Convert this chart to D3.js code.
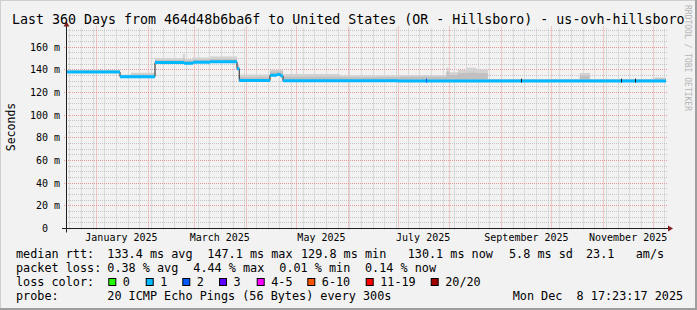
<!DOCTYPE html>
<html><head><meta charset="utf-8">
<script src="https://cdn.jsdelivr.net/npm/d3@7"></script>
<style>
html,body{margin:0;padding:0;background:#f2f2f2;}
svg{display:block;}
text{font-family:"DejaVu Sans Mono",monospace;fill:#000;white-space:pre;}
</style></head><body>
<svg id="c" width="697" height="310"></svg>
<script>
// ---------- data ----------
const titleText = "Last 360 Days from 464d48b6ba6f to United States (OR - Hillsboro) - us-ovh-hillsboro";
const yAxisTitle = "Seconds";
const watermark = "RRDTOOL / TOBI OETIKER";
const endTime = "2025-12-08T17:23:17Z";
const spanDays = 360;
const yMax = 176.5;                       // ms (upper limit)
const yMajorTicks = [0, 20, 40, 60, 80, 100, 120, 140, 160];
const yTickLabels = ["0  ", "20 m", "40 m", "60 m", "80 m", "100 m", "120 m", "140 m", "160 m"];
const yMinorStep = 5;
const monthLabels = ["2025-01-01", "2025-03-01", "2025-05-01", "2025-07-01", "2025-09-01", "2025-11-01"];

// median rtt (ms), step series
const medianDates = ["2024-12-13T17:23:17Z","2025-01-15T03:00:00Z","2025-02-05T03:00:00Z","2025-02-22T12:00:00Z",
  "2025-02-28T00:00:00Z","2025-03-10T03:00:00Z","2025-03-26T08:00:00Z","2025-03-27T16:00:00Z",
  "2025-04-15T03:00:00Z","2025-04-19T08:00:00Z","2025-04-21T10:00:00Z","2025-04-22T22:00:00Z","2025-07-01T00:00:00Z"];
const medianValues = [138.2, 134.0, 146.4, 145.8, 146.7, 147.1, 141.0, 130.6, 135.3, 136.0, 134.6, 130.3, 130.1];
const medianLoss = 1;   // loss colour index of the median line

// smoke (ms): outer and inner upper envelope, step series
const smokeDates = ["2024-12-13T17:23:17Z","2025-01-15T03:00:00Z","2025-01-21T18:00:00Z","2025-02-05T03:00:00Z",
  "2025-02-21T20:00:00Z","2025-02-23T03:00:00Z","2025-02-28T00:00:00Z","2025-03-10T03:00:00Z","2025-03-26T08:00:00Z",
  "2025-03-27T16:00:00Z","2025-04-15T03:00:00Z","2025-04-22T22:00:00Z","2025-05-27T00:00:00Z","2025-07-02T00:00:00Z",
  "2025-07-30T00:00:00Z","2025-07-31T12:00:00Z","2025-08-05T20:00:00Z","2025-08-10T16:00:00Z","2025-08-16T16:00:00Z",
  "2025-08-23T20:00:00Z","2025-10-18T00:00:00Z","2025-10-24T00:00:00Z","2025-12-01T20:00:00Z"];
const smokeOuter = [139.8, 136.0, 137.5, 150.5, 154.0, 149.6, 150.8, 151.9, 145.0, 136.0, 140.2, 136.4, 135.0, 135.3,
  141.6, 137.8, 139.8, 141.8, 140.3, 132.0, 137.2, 132.0, 133.2];
const smokeInner = [139.2, 135.2, 136.0, 148.5, 150.0, 148.0, 149.0, 149.5, 143.0, 133.5, 138.5, 134.0, 133.5, 134.0,
  138.0, 135.5, 137.0, 137.5, 137.0, 131.6, 135.0, 131.6, 132.3];

// short loss spots on the median
const spotDates = ["2025-07-18T00:00:00Z", "2025-09-13T00:00:00Z", "2025-11-12T00:00:00Z", "2025-11-20T00:00:00Z"];
const spotLoss = [2, 7, 7, 7];

const lossLabels = ["0", "1", "2", "3", "4-5", "6-10", "11-19", "20/20"];
const lossColors = ["#26ff00", "#00b8ff", "#0059ff", "#5e00ff", "#ff00ff", "#ff5500", "#ff0000", "#a00000"];

const rttStats = ["133.4 ms avg", "147.1 ms max", "129.8 ms min", "130.1 ms now", "5.8 ms sd", "23.1   am/s"];
const lossStats = ["0.38 % avg", "4.44 % max", "0.01 % min", "0.14 % now"];
const probeText = "20 ICMP Echo Pings (56 Bytes) every 300s";
const stampText = "Mon Dec  8 17:23:17 2025";

// ---------- layout ----------
const X0 = 66, X1 = 666, YB = 228.5, YT = 28.5;
const colAxis = "#1f1f1f", colArrow = "#801f1f";
const colGrid = "#c4c4c4", colMGrid = "#eb9a9a";
const legendX = [16, 107.3, 207.3, 301, 407.7, 509, 586];
const lossStatX = [107.3, 193.3, 279.3, 365];
const boxX = [108.3, 145.7, 182.3, 219, 256.7, 307.3, 365.7, 430.7];

const svg = d3.select("#c");
svg.append("rect").attr("width", 697).attr("height", 310).attr("fill", "#f2f2f2");

const tEnd = new Date(endTime);
const tStart = new Date(tEnd.getTime() - spanDays * 864e5);
const x = d3.scaleUtc().domain([tStart, tEnd]).range([X0, X1]);
const y = d3.scaleLinear().domain([0, yMax]).range([YB, YT]);
const crisp = v => Math.round(v - 0.5) + 0.5;

// ---------- grid ----------
const g = svg.append("g");
const minorY = d3.range(0, yMax, yMinorStep).filter(v => v % 20 !== 0);
g.selectAll(".hmin").data(minorY).join("line")
  .attr("x1", X0).attr("x2", X1 + 2).attr("y1", d => crisp(y(d))).attr("y2", d => crisp(y(d)))
  .attr("stroke", colGrid).attr("stroke-dasharray", "1,1");
const weeks = d3.utcMonday.range(tStart, tEnd).filter(d => d.getUTCDate() !== 1);
g.selectAll(".vmin").data(weeks).join("line")
  .attr("x1", d => crisp(x(d))).attr("x2", d => crisp(x(d))).attr("y1", YT).attr("y2", YB + 2)
  .attr("stroke", colGrid).attr("stroke-dasharray", "1,1");
g.selectAll(".hmaj").data(yMajorTicks.filter(v => v > 0)).join("line")
  .attr("x1", X0 - 2).attr("x2", X1 + 2).attr("y1", d => crisp(y(d))).attr("y2", d => crisp(y(d)))
  .attr("stroke", colMGrid).attr("stroke-dasharray", "1,1");
const months = d3.utcMonth.range(tStart, tEnd);
g.selectAll(".vmaj").data(months).join("line")
  .attr("x1", d => crisp(x(d))).attr("x2", d => crisp(x(d))).attr("y1", YT - 2).attr("y2", YB + 2)
  .attr("stroke", colMGrid).attr("stroke-dasharray", "1,1");

// ---------- data rows ----------
const parse = s => new Date(s);
function stepAt(dates, vals, t) {
  let v = vals[0];
  for (let i = 0; i < dates.length; i++) { if (parse(dates[i]) <= t) v = vals[i]; }
  return v;
}
const bpTimes = Array.from(new Set([...medianDates, ...smokeDates].map(s => parse(s).getTime()))).sort((a, b) => a - b);
bpTimes.push(tEnd.getTime());
const rows = bpTimes.map(ms => {
  const t = new Date(ms);
  return { t, med: stepAt(medianDates, medianValues, t), out: stepAt(smokeDates, smokeOuter, t), inn: stepAt(smokeDates, smokeInner, t) };
});

const dg = svg.append("g");
dg.append("path").datum(rows)
  .attr("d", d3.area().curve(d3.curveStepAfter).x(d => x(d.t)).y0(d => y(d.med)).y1(d => y(Math.max(d.out, d.med))))
  .attr("fill", "#d2d2d2");
dg.append("path").datum(rows)
  .attr("d", d3.area().curve(d3.curveStepAfter).x(d => x(d.t)).y0(d => y(d.med)).y1(d => y(Math.max(d.inn, d.med))))
  .attr("fill", "#c0c0c0");
dg.append("path").datum(rows)
  .attr("d", d3.line().curve(d3.curveStepAfter).x(d => x(d.t)).y(d => y(d.med)))
  .attr("fill", "none").attr("stroke", "#202020").attr("stroke-width", 1);
dg.append("path").datum(rows)
  .attr("d", d3.area().curve(d3.curveStepAfter).x(d => x(d.t)).y0(d => y(d.med) + 1.5).y1(d => y(d.med) - 1.5))
  .attr("fill", lossColors[medianLoss]);
dg.selectAll(".spot").data(spotDates.map((s, i) => ({ t: parse(s), c: spotLoss[i] === 7 ? "#202020" : lossColors[spotLoss[i]] })))
  .join("rect")
  .attr("x", d => Math.round(x(d.t))).attr("width", 1)
  .attr("y", d => y(stepAt(medianDates, medianValues, d.t)) - 2.5).attr("height", 4)
  .attr("fill", d => d.c);

// ---------- axes ----------
const ax = svg.append("g");
ax.append("line").attr("x1", X0 - 4).attr("x2", X1 + 3).attr("y1", YB).attr("y2", YB).attr("stroke", colAxis);
ax.append("line").attr("x1", X0 + 0.5).attr("x2", X0 + 0.5).attr("y1", YB + 4).attr("y2", YT - 3).attr("stroke", colAxis);
ax.append("path").attr("d", `M${X1 + 2},${YB - 3}L${X1 + 2},${YB + 3}L${X1 + 7},${YB}Z`).attr("fill", colArrow);
ax.append("path").attr("d", `M${X0 - 2.5},${YT - 2}L${X0 + 3.5},${YT - 2}L${X0 + 0.5},${YT - 7}Z`).attr("fill", colArrow);

// y labels
svg.selectAll(".yl").data(yMajorTicks).join("text")
  .attr("x", 60).attr("y", d => crisp(y(d)) + 3.5).attr("text-anchor", "end")
  .attr("font-size", "10px").attr("xml:space", "preserve").text((d, i) => yTickLabels[i]);
// x labels (centered mid-month)
const fmt = d3.utcFormat("%B %Y");
svg.selectAll(".xl").data(monthLabels.map(parse)).join("text")
  .attr("x", d => x(new Date(d.getTime() + 15 * 864e5))).attr("y", 241).attr("text-anchor", "middle")
  .attr("font-size", "10px").text(d => fmt(d));

// titles
svg.append("text").attr("x", 12).attr("y", 24).attr("font-size", "13.3px").text(titleText);
svg.append("text").attr("transform", "translate(15,127) rotate(-90)").attr("text-anchor", "middle")
  .attr("font-size", "11.5px").text(yAxisTitle);
svg.append("text").attr("transform", "translate(685,5) rotate(90)").attr("font-size", "8px")
  .style("fill", "#b4b4b4").text(watermark);

// ---------- legend ----------
const lf = "11.8px";
const leg = svg.append("g").attr("font-size", lf);
leg.append("text").attr("x", 16).attr("y", 258).text("median rtt:");
leg.selectAll(".r").data(rttStats).join("text").attr("x", (d, i) => legendX[i + 1]).attr("y", 258)
  .attr("xml:space", "preserve").text(d => d);
leg.append("text").attr("x", 16).attr("y", 272).text("packet loss:");
leg.selectAll(".l").data(lossStats).join("text").attr("x", (d, i) => lossStatX[i]).attr("y", 272).text(d => d);
leg.append("text").attr("x", 16).attr("y", 286).text("loss color:");
leg.selectAll(".b").data(lossLabels).join("rect")
  .attr("x", (d, i) => boxX[i] + 0.5).attr("y", 278.5).attr("width", 7).attr("height", 7)
  .attr("fill", (d, i) => lossColors[i]).attr("stroke", "#000");
leg.selectAll(".bt").data(lossLabels).join("text").attr("x", (d, i) => boxX[i] + 14.5).attr("y", 286).text(d => d);
leg.append("text").attr("x", 16).attr("y", 300).text("probe:");
leg.append("text").attr("x", 107.3).attr("y", 300).text(probeText);
leg.append("text").attr("x", 512.7).attr("y", 300).attr("xml:space", "preserve").text(stampText);

// ---------- frame ----------
svg.append("path").attr("d", "M0,309L0,0L696,0L696,1L1,1L1,309Z").attr("fill", "#cfcfcf");
svg.append("path").attr("d", "M697,0L697,310L0,310L0,308L695,308L695,0Z").attr("fill", "#9e9e9e");
</script>
</body></html>
